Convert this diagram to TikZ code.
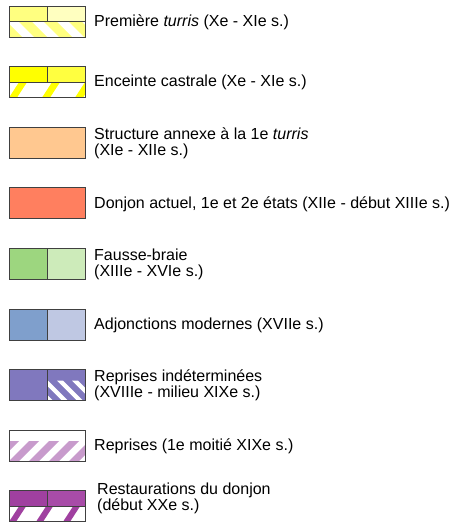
\documentclass[tikz,border=0pt]{standalone}
\usepackage{fontspec}
\setmainfont{Liberation Sans}
\usetikzlibrary{calc}
\definecolor{turrisA}{HTML}{FFFF80}
\definecolor{turrisB}{HTML}{FFFFC0}
\definecolor{enceinteA}{HTML}{FFFF00}
\definecolor{enceinteB}{HTML}{FFFF40}
\definecolor{annexe}{HTML}{FFC890}
\definecolor{donjon}{HTML}{FF7F5F}
\definecolor{braieA}{HTML}{9DD67F}
\definecolor{braieB}{HTML}{CDEBBA}
\definecolor{moderneA}{HTML}{7F9FCC}
\definecolor{moderneB}{HTML}{BFC8E3}
\definecolor{reprise}{HTML}{8078BE}
\definecolor{repriseXIX}{HTML}{C89BCC}
\definecolor{restauA}{HTML}{A040A0}
\definecolor{restauB}{HTML}{A84CA8}

\begin{document}
\begin{tikzpicture}[x=1pt,y=1pt]
\tikzset{
  box/.style={draw=black!75,line width=0.8pt},
  lbl/.style={anchor=west,inner sep=0pt,align=left,font=\fontsize{16}{16}\selectfont},
  % colour / period / stripe width / shift over 20pt rise
  stripes/.style args={#1/#2/#3/#4}{path picture={
    \foreach \k in {-6,...,12}
      \fill[#1] ($(path picture bounding box.south west)+(\k*#2,0)$)
        -- ++(#3,0) -- ++(#4,20) -- ++(-#3,0) -- cycle;}}
}
\useasboundingbox (0,0) rectangle (455,523);
\foreach \i in {1,...,9}
  \coordinate (r\i) at (9,{517-60.6*(\i-1)});

% Premiere turris
\path[box,fill=turrisA] (r1) rectangle ++(38,-15.5);
\path[box,fill=turrisB] ($(r1)+(38,0)$) rectangle ++(38,-15.5);
\path[box,fill=white,stripes=turrisA/25/13/-20] ($(r1)+(0,-15.5)$) rectangle ++(76,-15.5);
\node[lbl] (l1) at ($(r1)+(85,-16)$) {Première \textit{turris} (Xe - XIe s.)};

% enceinte
\path[box,fill=enceinteA] (r2) rectangle ++(38,-15.5);
\path[box,fill=enceinteB] ($(r2)+(38,0)$) rectangle ++(38,-15.5);
\path[box,fill=white,stripes=enceinteA/33/8/13] ($(r2)+(0,-15.5)$) rectangle ++(76,-15.5);
\node[lbl] (l2) at ($(r2)+(85,-16)$) {Enceinte castrale (Xe - XIe s.)};

% annexe
\path[box,fill=annexe] (r3) rectangle ++(76,-31);
\node[lbl] (l3) at ($(r3)+(85,-16)$) {Structure annexe à la 1e \textit{turris}\\(XIe - XIIe s.)};

% donjon
\path[box,fill=donjon] (r4) rectangle ++(76,-31);
\node[lbl] (l4) at ($(r4)+(85,-16)$) {Donjon actuel, 1e et 2e états (XIIe - début XIIIe s.)};

% fausse-braie
\path[box,fill=braieA] (r5) rectangle ++(38,-31);
\path[box,fill=braieB] ($(r5)+(38,0)$) rectangle ++(38,-31);
\node[lbl] (l5) at ($(r5)+(85,-16)$) {Fausse-braie\\(XIIIe - XVIe s.)};

% modernes
\path[box,fill=moderneA] (r6) rectangle ++(38,-31);
\path[box,fill=moderneB] ($(r6)+(38,0)$) rectangle ++(38,-31);
\node[lbl] (l6) at ($(r6)+(85,-16)$) {Adjonctions modernes (XVIIe s.)};

% reprises
\path[box,fill=reprise] (r7) rectangle ++(38,-31);
\path[box,fill=reprise,stripes=white/15/6/-20] ($(r7)+(38,0)$) rectangle ++(38,-31);
\node[lbl] (l7) at ($(r7)+(85,-16)$) {Reprises indéterminées\\(XVIIIe - milieu XIXe s.)};

\path[box,fill=white,stripes=repriseXIX/20/10/20] (r8) rectangle ++(76,-31);
\node[lbl] (l8) at ($(r8)+(85,-16)$) {Reprises (1e moitié XIXe s.)};

% restaurations
\path[box,fill=restauA] (r9) rectangle ++(38,-15.5);
\path[box,fill=restauB] ($(r9)+(38,0)$) rectangle ++(38,-15.5);
\path[box,fill=white,stripes=restauA/27/7/13] ($(r9)+(0,-15.5)$) rectangle ++(76,-15.5);
\node[lbl] (l9) at ($(r9)+(88,-8)$) {Restaurations du donjon\\(début XXe s.)};
\end{tikzpicture}
\end{document}
